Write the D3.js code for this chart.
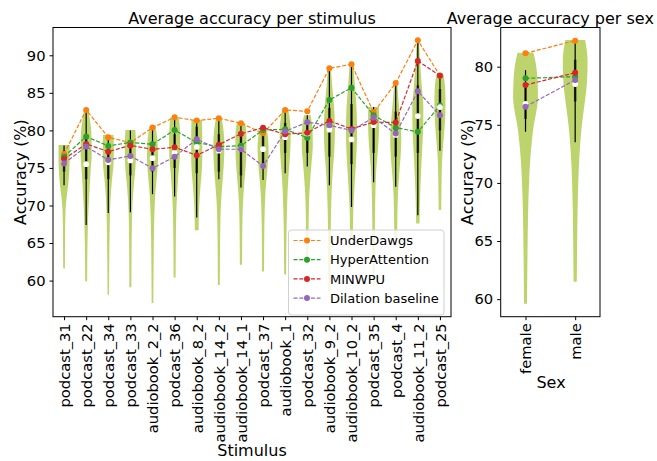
<!DOCTYPE html>
<html>
<head>
<meta charset="utf-8">
<script src="https://cdn.jsdelivr.net/npm/d3@7"></script>
<style>
  body { margin: 0; background: #fff; }
  svg { display: block; font-family: "DejaVu Sans", sans-serif; }
</style>
</head>
<body>
<div id="chart"></div>
<script>
// ---- data ----
const stimuli = ["podcast_31", "podcast_22", "podcast_34", "podcast_33", "audiobook_2_2", "podcast_36",
  "audiobook_8_2", "audiobook_14_2", "audiobook_14_1", "podcast_37", "audiobook_1", "podcast_32",
  "audiobook_9_2", "audiobook_10_2", "podcast_35", "podcast_4", "audiobook_11_2", "podcast_25"];
const sexes = ["female", "male"];
const modelNames = ["UnderDawgs", "HyperAttention", "MINWPU", "Dilation baseline"];

const underDawgsStim = [76.85, 82.72, 79.08, 78.37, 80.37, 81.74, 81.3, 81.62, 80.95, 79.61, 82.72, 82.54, 88.27, 88.8, 82.4, 86.3, 91.99, 87.3];
const hyperAttentionStim = [76.5, 79.17, 77.93, 78.4, 78.15, 80.05, 78.37, 77.84, 77.95, 80.05, 80.14, 79.03, 84.05, 85.68, 82.02, 80.36, 79.81, 83.3];
const minwpuStim = [76.2, 78.2, 77.17, 78.0, 77.48, 77.75, 76.68, 78.1, 79.54, 80.36, 79.48, 79.7, 81.26, 80.2, 81.1, 81.05, 89.24, 87.29];
const dilationStim = [75.6, 77.84, 76.06, 76.6, 74.95, 76.5, 78.82, 77.5, 77.48, 75.26, 79.88, 81.07, 80.67, 80.0, 81.7, 79.57, 85.2, 82.0];

const underDawgsSex = [81.15, 82.24];
const hyperAttentionSex = [79.0, 79.14];
const minwpuSex = [78.42, 79.48];
const dilationSex = [76.56, 78.85];

// box stats of the per-subject accuracies
const whiskerLowStim = [72.7, 67.4, 69.0, 69.1, 71.5, 71.2, 68.4, 73.5, 72.4, 73.4, 74.3, 75.2, 72.7, 69.8, 73.1, 72.5, 68.7, 77.3];
const q1Stim = [74.5, 73.5, 73.5, 74.0, 74.5, 75.0, 74.3, 74.5, 74.0, 75.5, 77.0, 77.0, 76.5, 75.5, 77.0, 76.5, 77.0, 80.0];
const medianStim = [75.8, 75.5, 75.75, 76.0, 76.3, 77.0, 77.8, 77.3, 77.5, 77.5, 79.1, 79.6, 80.1, 78.8, 80.7, 79.4, 81.9, 83.1];
const q3Stim = [77.3, 79.0, 78.0, 78.5, 78.5, 79.5, 80.5, 79.5, 79.5, 79.5, 81.0, 81.0, 83.0, 83.5, 82.5, 82.5, 86.0, 85.5];
const whiskerHighStim = [78.0, 82.8, 79.4, 80.0, 80.6, 81.7, 81.4, 81.5, 81.0, 80.4, 82.8, 82.0, 88.0, 88.7, 83.1, 86.2, 92.0, 87.4];

const whiskerLowSex = [74.4, 73.5];
const q1Sex = [75.5, 77.0];
const medianSex = [76.8, 78.5];
const q3Sex = [78.6, 80.6];
const whiskerHighSex = [79.7, 82.3];

// violin outlines: [accuracy, relative density width]
const violinStim = [
  [[78.05, 1], [76, 1], [74, 0.88], [72.5, 0.7], [71, 0.45], [69.5, 0.28], [67, 0.2], [64, 0.17], [61.6, 0.15]],
  [[82.8, 0.35], [81.5, 0.65], [79.5, 0.95], [77, 1], [74.5, 0.8], [72, 0.6], [70, 0.45], [67, 0.3], [64, 0.22], [59.9, 0.18]],
  [[79.4, 0.95], [77, 1], [75, 0.9], [73.5, 0.68], [71, 0.42], [68, 0.28], [64, 0.2], [60, 0.15], [58.1, 0.13]],
  [[80.05, 0.9], [78, 1], [75.5, 0.95], [73, 0.66], [70.5, 0.4], [68, 0.28], [64, 0.22], [59.1, 0.18]],
  [[80.6, 0.5], [79, 0.85], [76.5, 1], [74, 0.8], [72, 0.55], [70, 0.4], [67, 0.28], [62, 0.2], [57, 0.15]],
  [[81.7, 0.8], [79, 1], [76.5, 0.95], [74.3, 0.7], [71.5, 0.45], [69, 0.3], [65, 0.22], [60.4, 0.18]],
  [[81.4, 0.95], [79, 1], [76, 1], [74, 0.85], [72, 0.62], [70, 0.45], [68, 0.36], [66.7, 0.35]],
  [[81.5, 0.55], [80, 0.85], [78, 1], [75.5, 0.9], [73, 0.65], [70.5, 0.4], [67.5, 0.27], [63, 0.2], [59.4, 0.18]],
  [[81.0, 0.75], [79, 1], [76.5, 0.95], [74.3, 0.75], [71.5, 0.45], [69, 0.3], [65, 0.22], [62.1, 0.2]],
  [[80.4, 0.6], [79, 0.9], [77.5, 1], [75, 0.8], [72.5, 0.5], [70, 0.32], [66, 0.22], [61.2, 0.18]],
  [[82.8, 0.55], [81, 0.9], [79.5, 1], [77, 0.9], [74.5, 0.65], [72, 0.45], [69.5, 0.33], [65, 0.22], [60.8, 0.18]],
  [[82.0, 0.6], [80, 0.95], [78, 1], [75.5, 0.75], [72.5, 0.45], [70, 0.3], [66, 0.22], [62.1, 0.18]],
  [[88.0, 0.3], [86, 0.5], [83.5, 0.8], [80.5, 1], [77.5, 0.9], [75, 0.65], [73, 0.48], [70.5, 0.35], [67, 0.25], [62, 0.2], [58.5, 0.17]],
  [[88.7, 0.35], [86, 0.6], [83, 0.9], [80, 1], [77, 0.9], [74.5, 0.7], [72, 0.5], [69.5, 0.33], [65.6, 0.25]],
  [[83.1, 0.95], [81.5, 1], [79.5, 0.95], [77.5, 0.78], [75, 0.5], [72.5, 0.35], [69, 0.26], [64, 0.2], [59.2, 0.17]],
  [[86.2, 0.3], [84, 0.5], [81.5, 0.8], [79, 1], [76.5, 0.88], [74, 0.6], [71.5, 0.4], [68.5, 0.3], [65.7, 0.25]],
  [[92.0, 0.2], [89, 0.42], [86, 0.7], [83, 1], [80, 0.95], [77, 0.75], [74, 0.55], [71, 0.4], [67.6, 0.3]],
  [[87.4, 0.65], [85.5, 0.95], [83.5, 1], [81, 0.9], [79, 0.68], [76.5, 0.42], [73.5, 0.3], [71, 0.25], [69.4, 0.22]]
];
const violinSex = [
  [[81.2, 0.65], [80, 0.87], [78.5, 0.98], [77.3, 1], [76, 0.85], [75, 0.67], [73.5, 0.5], [72, 0.38], [70, 0.28], [67, 0.2], [64, 0.16], [61, 0.13], [59.6, 0.12]],
  [[82.3, 0.8], [80.5, 1], [78.5, 0.94], [76.5, 0.72], [75, 0.54], [73, 0.38], [71, 0.28], [68, 0.2], [65, 0.16], [61.5, 0.13]]
];

const stimTicks = [60, 65, 70, 75, 80, 85, 90];
const sexTicks = [60, 65, 70, 75, 80];

// ---- styles ----
const modelColors = ["#ff7f0e", "#2ca02c", "#d62728", "#9467bd"];
const violinColor = "#bdd36c";
const tickFont = 14.7;

const width = 657, height = 461;
const svg = d3.select("#chart").append("svg")
  .attr("width", width)
  .attr("height", height);

function violinPanel(p) {
  const n = p.cats.length;
  const x = d3.scaleLinear().domain([0.5, n + 0.5]).range([p.left, p.right]);
  const y = d3.scaleLinear().domain(p.yDomain).range([p.bottom, p.top]);
  const half = (x(1) - x(0)) * 0.25;
  const g = svg.append("g");

  // violins
  g.append("g").selectAll("path")
    .data(p.profiles)
    .join("path")
      .attr("d", (prof, i) => d3.area()
        .curve(d3.curveMonotoneY)
        .y(d => y(d[0]))
        .x0(d => x(i + 1) - d[1] * half)
        .x1(d => x(i + 1) + d[1] * half)(prof))
      .attr("fill", violinColor);

  // whiskers and boxes
  const idx = d3.range(n);
  g.append("g").selectAll("line")
    .data(idx)
    .join("line")
      .attr("x1", i => x(i + 1)).attr("x2", i => x(i + 1))
      .attr("y1", i => y(p.wLow[i])).attr("y2", i => y(p.wHigh[i]))
      .attr("stroke", "#000").attr("stroke-width", 1.2);
  g.append("g").selectAll("line")
    .data(idx)
    .join("line")
      .attr("x1", i => x(i + 1)).attr("x2", i => x(i + 1))
      .attr("y1", i => y(p.q1[i])).attr("y2", i => y(p.q3[i]))
      .attr("stroke", "#000").attr("stroke-opacity", 0.7).attr("stroke-width", 2.5);

  // model series (first two under the medians, the rest above)
  function drawSeries(k) {
    const vals = p.series[k];
    const s = g.append("g");
    s.append("path")
      .datum(vals)
      .attr("d", d3.line().x((d, i) => x(i + 1)).y(d => y(d)))
      .attr("fill", "none")
      .attr("stroke", modelColors[k])
      .attr("stroke-width", 1.2)
      .attr("stroke-dasharray", "4,1.8");
    s.selectAll("circle")
      .data(vals)
      .join("circle")
        .attr("cx", (d, i) => x(i + 1))
        .attr("cy", d => y(d))
        .attr("r", 3)
        .attr("fill", modelColors[k]);
  }
  drawSeries(0);
  drawSeries(1);
  g.append("g").selectAll("circle")
    .data(p.median)
    .join("circle")
      .attr("cx", (d, i) => x(i + 1))
      .attr("cy", d => y(d))
      .attr("r", 2.9)
      .attr("fill", "#fff");
  drawSeries(2);
  drawSeries(3);

  // frame
  g.append("rect")
    .attr("x", p.left).attr("y", p.top)
    .attr("width", p.right - p.left).attr("height", p.bottom - p.top)
    .attr("fill", "none").attr("stroke", "#000").attr("stroke-width", 1);

  // y axis
  g.append("g")
    .attr("transform", `translate(${p.left},0)`)
    .call(d3.axisLeft(y).tickValues(p.yTicks).tickSize(3.5).tickPadding(4))
    .call(a => a.select(".domain").remove())
    .call(a => a.selectAll("text").attr("font-size", tickFont).attr("fill", "#000").attr("font-family", "DejaVu Sans"));

  // x axis with rotated labels
  g.append("g")
    .attr("transform", `translate(0,${p.bottom})`)
    .call(d3.axisBottom(x).tickValues(d3.range(1, n + 1)).tickFormat(i => p.cats[i - 1]).tickSize(3.5))
    .call(a => a.select(".domain").remove())
    .call(a => a.selectAll("text")
      .attr("font-size", tickFont).attr("fill", "#000").attr("font-family", "DejaVu Sans")
      .attr("transform", "rotate(-90)")
      .attr("text-anchor", "end")
      .attr("x", -6.6).attr("y", 0).attr("dy", "0.36em"));

  // title and axis labels
  g.append("text")
    .attr("x", (p.left + p.right) / 2).attr("y", 23.5)
    .attr("text-anchor", "middle").attr("font-size", 16)
    .text(p.title);
  g.append("text")
    .attr("transform", `translate(${p.left - p.yLabelGap},${(p.top + p.bottom) / 2}) rotate(-90)`)
    .attr("text-anchor", "middle").attr("font-size", 16)
    .text("Accuracy (%)");
  g.append("text")
    .attr("x", p.xLabelX).attr("y", p.xLabelY)
    .attr("text-anchor", "middle").attr("font-size", 16)
    .text(p.xLabel);

  return { x, y, g };
}

const left = violinPanel({
  cats: stimuli,
  left: 53, right: 451, top: 27.5, bottom: 316.7,
  yDomain: [55.19, 93.70], yTicks: stimTicks,
  profiles: violinStim,
  wLow: whiskerLowStim, q1: q1Stim, median: medianStim, q3: q3Stim, wHigh: whiskerHighStim,
  series: [underDawgsStim, hyperAttentionStim, minwpuStim, dilationStim],
  title: "Average accuracy per stimulus",
  xLabel: "Stimulus", xLabelX: 252, xLabelY: 456,
  yLabelGap: 27.5
});

violinPanel({
  cats: sexes,
  left: 500.7, right: 600, top: 27.5, bottom: 316.7,
  yDomain: [58.49, 83.37], yTicks: sexTicks,
  profiles: violinSex,
  wLow: whiskerLowSex, q1: q1Sex, median: medianSex, q3: q3Sex, wHigh: whiskerHighSex,
  series: [underDawgsSex, hyperAttentionSex, minwpuSex, dilationSex],
  title: "Average accuracy per sex",
  xLabel: "Sex", xLabelX: 551, xLabelY: 388,
  yLabelGap: 27.5
});

// legend in the stimulus panel
const legend = left.g.append("g").attr("transform", "translate(288.5,230)");
legend.append("rect")
  .attr("width", 155.5).attr("height", 85)
  .attr("rx", 3)
  .attr("fill", "#fff").attr("fill-opacity", 0.8)
  .attr("stroke", "#d0d0d0").attr("stroke-width", 1);
const entry = legend.selectAll("g.entry")
  .data(modelNames)
  .join("g")
    .attr("class", "entry")
    .attr("transform", (d, i) => `translate(0,${10.5 + i * 19.2})`);
entry.append("line")
  .attr("x1", 5).attr("x2", 32)
  .attr("stroke", (d, i) => modelColors[i])
  .attr("stroke-width", 1.2)
  .attr("stroke-dasharray", "4,1.8");
entry.append("circle")
  .attr("cx", 18.5).attr("r", 3)
  .attr("fill", (d, i) => modelColors[i]);
entry.append("text")
  .attr("x", 41.5).attr("dy", "0.36em")
  .attr("font-size", 13)
  .text(d => d);
</script>
</body>
</html>
